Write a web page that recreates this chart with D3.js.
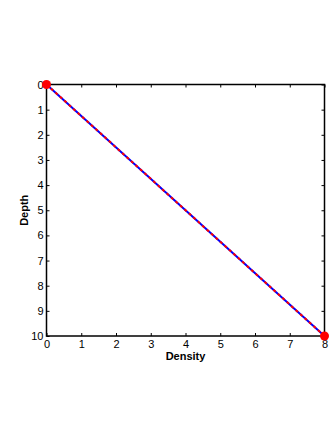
<!DOCTYPE html>
<html>
<head>
<meta charset="utf-8">
<script src="https://cdn.jsdelivr.net/npm/d3@7"></script>
<style>
  body { margin: 0; background: #fff; }
  text { font-family: "Liberation Sans", Arial, sans-serif; }
</style>
</head>
<body>
<div id="chart"></div>
<script>
// line from surface to bottom
const density = [0, 8];
const depth = [0, 10];
const xTicks = [0, 1, 2, 3, 4, 5, 6, 7, 8];
const yTicks = [0, 1, 2, 3, 4, 5, 6, 7, 8, 9, 10];

const W = 332, H = 430;
const margin = { top: 84.5, right: 7.5, bottom: 94, left: 46.5 };
const width = W - margin.left - margin.right;
const height = H - margin.top - margin.bottom;

const svg = d3.select("#chart").append("svg")
    .attr("width", W)
    .attr("height", H);

const g = svg.append("g")
    .attr("transform", `translate(${margin.left},${margin.top})`);

const x = d3.scaleLinear().domain([0, 8]).range([0, width]);
const y = d3.scaleLinear().domain([0, 10]).range([0, height]);

const pts = density.map((d, i) => [d, depth[i]]);

// axes, ticks pointing inward
const tick = 3;
g.append("g")
    .attr("transform", `translate(0,${height})`)
    .call(d3.axisBottom(x).tickValues(xTicks).tickSize(-tick).tickPadding(4))
    .call(a => a.select(".domain").remove());
g.append("g")
    .call(d3.axisTop(x).tickValues(xTicks).tickSize(-tick).tickFormat(""))
    .call(a => a.select(".domain").remove());
g.append("g")
    .call(d3.axisLeft(y).tickValues(yTicks).tickSize(-tick).tickPadding(3))
    .call(a => a.select(".domain").remove());
g.append("g")
    .attr("transform", `translate(${width},0)`)
    .call(d3.axisRight(y).tickValues(yTicks).tickSize(-tick).tickFormat(""))
    .call(a => a.select(".domain").remove());

g.selectAll(".tick line").attr("stroke", "#000").attr("stroke-width", 1);
g.selectAll(".tick text").attr("fill", "#000").style("font-size", "11px");

g.append("rect")
    .attr("width", width)
    .attr("height", height)
    .attr("fill", "none")
    .attr("stroke", "#000")
    .attr("stroke-width", 1.5);

const line = d3.line().x(d => x(d[0])).y(d => y(d[1]));

g.append("path")
    .datum(pts)
    .attr("d", line)
    .attr("fill", "none")
    .attr("stroke", "#0000ff")
    .attr("stroke-width", 2);
g.append("path")
    .datum(pts)
    .attr("d", line)
    .attr("fill", "none")
    .attr("stroke", "#ff0000")
    .attr("stroke-width", 2)
    .attr("stroke-dasharray", "3,3");

g.selectAll("circle")
    .data(pts)
    .join("circle")
    .attr("cx", d => x(d[0]))
    .attr("cy", d => y(d[1]))
    .attr("r", 4.5)
    .attr("fill", "#ff0000");

g.append("text")
    .attr("x", width / 2)
    .attr("y", height + 24)
    .attr("text-anchor", "middle")
    .style("font-size", "11px")
    .style("font-weight", "bold")
    .text("Density");

g.append("text")
    .attr("transform", `translate(-19,${height / 2}) rotate(-90)`)
    .attr("text-anchor", "middle")
    .style("font-size", "11px")
    .style("font-weight", "bold")
    .text("Depth");
</script>
</body>
</html>
